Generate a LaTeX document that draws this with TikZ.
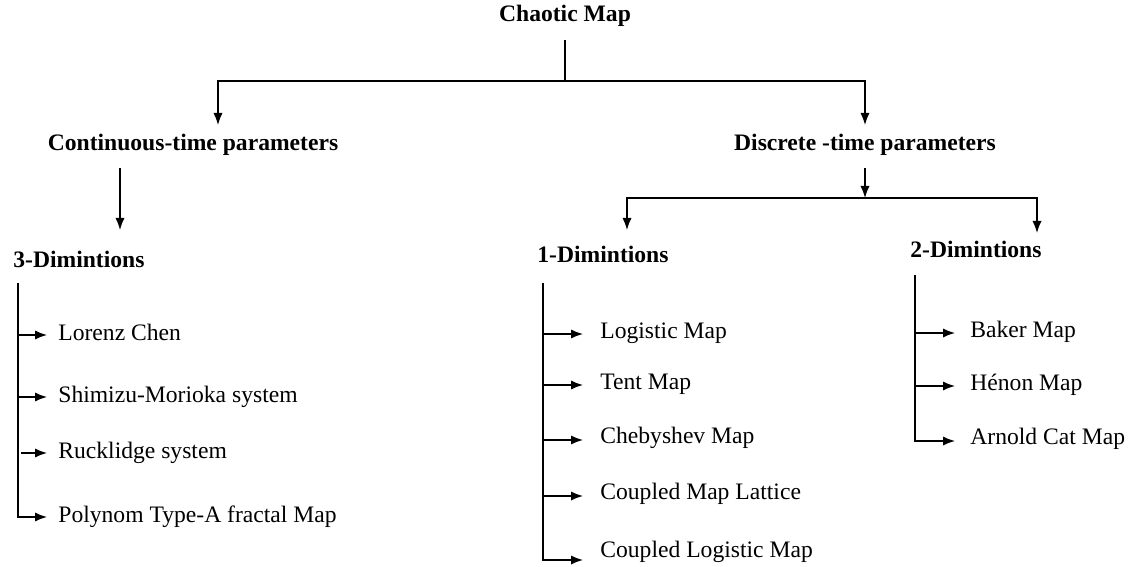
\documentclass[tikz,border=0pt]{standalone}
\usepackage{fontspec}
\setmainfont{Liberation Serif}
\usetikzlibrary{arrows.meta}
\begin{document}
\begin{tikzpicture}[x=0.5pt,y=-0.5pt,
  conn/.style={line width=0.7pt},
  arr/.style={conn,-{Latex[length=6pt,width=4.6pt]}},
  head/.style={inner sep=0,anchor=base,font=\fontsize{11.8}{14}\selectfont\bfseries},
  headw/.style={head,anchor=base west},
  item/.style={inner sep=0,anchor=base west,font=\fontsize{11.8}{14}\selectfont}]
\useasboundingbox (0,0) rectangle (1131,567);
% headings
\node[head] (root) at (565,22) {Chaotic Map};
\node[head] (cont) at (193,151) {Continuous-time parameters};
\node[head] (disc) at (865,151) {Discrete -time parameters};
\node[headw] (d3) at (13,267) {3-Dimintions};
\node[headw] (d1) at (537,263) {1-Dimintions};
\node[headw] (d2) at (910,257) {2-Dimintions};
% top connectors
\coordinate (r0) at (565,40);
\coordinate (rj) at (565,81);
\coordinate (ct) at (218,125);
\coordinate (dt) at (865,125);
\draw[conn] (r0) -- (rj);
\draw[arr] (rj) -| (ct);
\draw[arr] (rj) -| (dt);
% continuous
\coordinate (c0) at (120,168);
\coordinate (c1) at (120,230);
\draw[arr] (c0) -- (c1);
% discrete
\coordinate (s0) at (865,168);
\coordinate (s1) at (865,198);
\coordinate (s1l) at (627,230);
\coordinate (s1r) at (1037,233);
\draw[arr] (s0) -- (s1);
\draw[arr] (s1) -| (s1l);
\draw[arr] (s1) -| (s1r);
% 3D list
\node[item] (l1) at (58,340) {Lorenz Chen};
\node[item] (l2) at (58,402) {Shimizu-Morioka system};
\node[item] (l3) at (58,458) {Rucklidge system};
\node[item] (l4) at (58,522) {Polynom Type-A fractal Map};
\coordinate (lt) at (18,283);
\coordinate (la1) at (18,335); \coordinate (lb1) at (47,335);
\coordinate (la2) at (18,397); \coordinate (lb2) at (47,397);
\coordinate (la3) at (21,453); \coordinate (lb3) at (47,453);
\coordinate (la4) at (18,517); \coordinate (lb4) at (47,517);
\draw[arr] (lt) -- (la4) -- (lb4);
\draw[arr] (la1) -- (lb1);
\draw[arr] (la2) -- (lb2);
\draw[arr] (la3) -- (lb3);
% 1D list
\node[item] (m1) at (600,338) {Logistic Map};
\node[item] (m2) at (600,389) {Tent Map};
\node[item] (m3) at (600,443) {Chebyshev Map};
\node[item] (m4) at (600,499) {Coupled Map Lattice};
\node[item] (m5) at (600,557) {Coupled Logistic Map};
\coordinate (mt) at (543,283);
\coordinate (ma1) at (543,334); \coordinate (mb1) at (583,334);
\coordinate (ma2) at (543,385); \coordinate (mb2) at (583,385);
\coordinate (ma3) at (543,440); \coordinate (mb3) at (583,440);
\coordinate (ma4) at (543,496); \coordinate (mb4) at (583,496);
\coordinate (ma5) at (543,560); \coordinate (mb5) at (583,560);
\draw[arr] (mt) -- (ma5) -- (mb5);
\draw[arr] (ma1) -- (mb1);
\draw[arr] (ma2) -- (mb2);
\draw[arr] (ma3) -- (mb3);
\draw[arr] (ma4) -- (mb4);
% 2D list
\node[item] (n1) at (970,337) {Baker Map};
\node[item] (n2) at (970,390) {Hénon Map};
\node[item] (n3) at (970,444) {Arnold Cat Map};
\coordinate (nt) at (915,275);
\coordinate (na1) at (915,333); \coordinate (nb1) at (955,333);
\coordinate (na2) at (915,386); \coordinate (nb2) at (955,386);
\coordinate (na3) at (915,441); \coordinate (nb3) at (955,441);
\draw[arr] (nt) -- (na3) -- (nb3);
\draw[arr] (na1) -- (nb1);
\draw[arr] (na2) -- (nb2);
\end{tikzpicture}
\end{document}
